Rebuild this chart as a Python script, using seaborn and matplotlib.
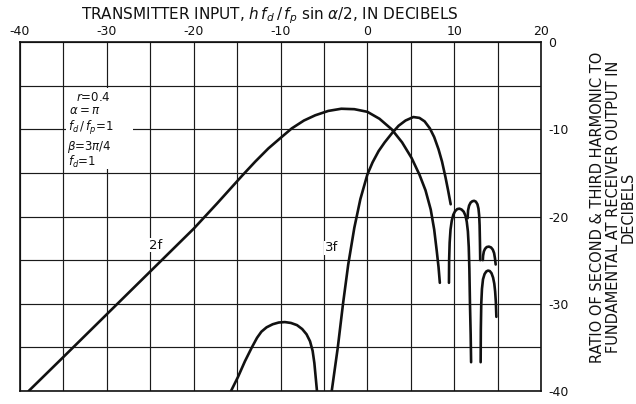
import matplotlib
matplotlib.use("Agg")
import numpy as np
import pandas as pd
import matplotlib.pyplot as plt
import seaborn as sns
from matplotlib.patches import Rectangle

# Second harmonic (2f): ratio to fundamental vs transmitter input, in dB
f2_main_x = [-39.0, -35.0, -30.0, -25.0, -20.0, -17.3, -14.4, -12.9, -11.4, -10.0,
             -8.7, -7.3, -6.0, -4.5, -3.0, -1.5, 0.0, 1.4, 2.8, 4.0,
             5.1, 6.0, 6.7, 7.3, 7.7, 8.0, 8.2, 8.35]
f2_main_y = [-40.0, -36.1, -31.2, -26.3, -21.4, -18.5, -15.3, -13.7, -12.2, -11.0,
             -9.9, -9.0, -8.4, -7.9, -7.65, -7.7, -8.0, -8.8, -10.0, -11.5,
             -13.3, -15.2, -17.0, -19.2, -21.5, -24.0, -25.8, -27.6]
f2_lobe2_x = [9.4, 9.42, 9.48, 9.58, 9.72, 9.9, 10.1, 10.35, 10.6, 10.85,
              11.1, 11.3, 11.45, 11.58, 11.68, 11.75, 11.82, 11.9, 11.95]
f2_lobe2_y = [-27.6, -25.0, -23.0, -21.5, -20.5, -19.8, -19.4, -19.15, -19.1, -19.2,
              -19.45, -19.9, -20.6, -21.7, -23.5, -26.0, -30.0, -33.5, -36.7]
f2_lobe3_x = [13.05, 13.07, 13.12, 13.2, 13.32, 13.5, 13.7, 13.9, 14.1, 14.3,
              14.48, 14.62, 14.72, 14.8, 14.86]
f2_lobe3_y = [-36.7, -33.0, -30.0, -28.3, -27.2, -26.6, -26.3, -26.2, -26.25, -26.5,
              -27.0, -27.7, -28.6, -29.8, -31.5]

# Third harmonic (3f)
f3_lobe1_x = [-15.7, -14.9, -14.1, -13.3, -12.7, -12.2, -11.6, -10.9, -10.2, -9.5,
              -8.8, -8.1, -7.5, -7.0, -6.6, -6.3, -6.1, -5.95, -5.8]
f3_lobe1_y = [-40.0, -38.4, -36.6, -35.0, -33.9, -33.2, -32.7, -32.35, -32.15, -32.1,
              -32.2, -32.45, -32.9, -33.5, -34.3, -35.4, -36.8, -38.4, -40.0]
f3_main_x = [-4.1, -3.4, -2.8, -2.2, -1.5, -0.8, 0.0, 0.6, 1.3, 2.0,
             2.8, 3.6, 4.4, 5.3, 6.0, 6.6, 7.2, 7.7, 8.2, 8.6,
             9.0, 9.3, 9.6]
f3_main_y = [-40.0, -35.0, -30.0, -25.5, -21.3, -18.0, -15.2, -13.8, -12.5, -11.5,
             -10.5, -9.6, -9.0, -8.6, -8.7, -9.1, -9.9, -10.9, -12.3, -13.7,
             -15.5, -17.0, -18.6]
f3_lobe3_x = [11.55, 11.6, 11.72, 11.9, 12.1, 12.3, 12.5, 12.68, 12.8, 12.88,
              12.93, 12.97, 13.0]
f3_lobe3_y = [-20.2, -19.3, -18.75, -18.4, -18.25, -18.2, -18.3, -18.6, -19.1, -19.9,
              -21.0, -23.0, -25.0]
f3_lobe4_x = [13.3, 13.33, 13.42, 13.56, 13.75, 14.0, 14.25, 14.45, 14.6, 14.7, 14.78]
f3_lobe4_y = [-25.0, -24.5, -24.0, -23.7, -23.5, -23.45, -23.55, -23.8, -24.2, -24.8, -25.5]

x_ticks = [-40, -30, -20, -10, 0, 10, 20]
x_tick_labels = ["-40", "-30", "-20", "-10", "0", "10", "20"]
y_ticks = [0, -10, -20, -30, -40]
y_tick_labels = ["0", "-10", "-20", "-30", "-40"]

param_lines = [r"$r$=0.4", r"$\alpha=\pi$", r"$f_d\,/\,f_p$=1", r"$\beta$=3$\pi$/4", r"$f_d$=1"]

lobes = [
    ("2f", "main", f2_main_x, f2_main_y),
    ("2f", "lobe2", f2_lobe2_x, f2_lobe2_y),
    ("2f", "lobe3", f2_lobe3_x, f2_lobe3_y),
    ("3f", "lobe1", f3_lobe1_x, f3_lobe1_y),
    ("3f", "main", f3_main_x, f3_main_y),
    ("3f", "lobe3", f3_lobe3_x, f3_lobe3_y),
    ("3f", "lobe4", f3_lobe4_x, f3_lobe4_y),
]
frames = []
for harm, name, xs, ys in lobes:
    frames.append(pd.DataFrame({"input_db": xs, "ratio_db": ys,
                                "segment": f"{harm}-{name}", "harmonic": harm}))
df = pd.concat(frames, ignore_index=True)

sns.set_theme(style="white")
plt.rcParams["font.family"] = ["DejaVu Sans"]

fig = plt.figure(figsize=(6.36, 4.04), dpi=100)
ax = fig.add_axes([20 / 636, 1 - 391 / 404, 521 / 636, 349 / 404])

sns.lineplot(data=df, x="input_db", y="ratio_db", units="segment", estimator=None,
             sort=False, color="#111111", linewidth=1.9, ax=ax, zorder=5)
for line in ax.get_lines():
    line.set_solid_capstyle("round")
    line.set_solid_joinstyle("round")

ax.set_xlim(-40, 20)
ax.set_ylim(-40, 0)

# Grid every 5 dB, labels every 10 dB
ax.set_xticks(x_ticks)
ax.set_xticklabels(x_tick_labels)
ax.set_xticks(np.arange(-35, 20, 10), minor=True)
ax.set_yticks(y_ticks)
ax.set_yticklabels(y_tick_labels)
ax.set_yticks(np.arange(-35, 0, 10), minor=True)
ax.grid(True, which="both", color="#1a1a1a", linewidth=0.85)
ax.set_axisbelow(True)

ax.xaxis.tick_top()
ax.yaxis.tick_right()
ax.tick_params(axis="both", which="both", length=0, labelsize=9, colors="#111111")
ax.tick_params(axis="x", pad=3)
ax.tick_params(axis="y", pad=5)
ax.set_xlabel("")
ax.set_ylabel("")
for sp in ax.spines.values():
    sp.set_visible(True)
    sp.set_color("#111111")
    sp.set_linewidth(1.2)

# Parameter block with a blank background over the grid
ax.add_patch(Rectangle((-34.7, -14.6), 7.7, 9.3, facecolor="white", edgecolor="none", zorder=3))
param_pos = [(-33.6, -6.4), (-34.4, -7.9), (-34.5, -9.8), (-34.6, -12.0), (-34.5, -13.8)]
for (px, py), txt in zip(param_pos, param_lines):
    ax.text(px, py, txt, fontsize=8.5, ha="left", va="center", color="#111111", zorder=4)

for lbl, (lx, ly) in zip(["2f", "3f"], [(-24.4, -23.3), (-4.1, -23.6)]):
    ax.text(lx, ly, lbl, fontsize=9.5, ha="center", va="center", color="#111111", zorder=4,
            bbox=dict(facecolor="white", edgecolor="none", pad=0.5))

fig.text(270 / 636, 1 - 16 / 404,
         r"TRANSMITTER INPUT, $h\,f_d\,/\,f_p$ sin $\alpha$/2, IN DECIBELS",
         ha="center", va="center", fontsize=11, color="#111111")

fig.text(613 / 636, 1 - 207 / 404,
         "RATIO OF SECOND & THIRD HARMONIC TO\nFUNDAMENTAL AT RECEIVER OUTPUT IN\nDECIBELS",
         rotation=90, ha="center", va="center", multialignment="center",
         fontsize=10.5, linespacing=1.0, color="#111111")

fig.savefig("out.png", dpi=100, facecolor="white")
